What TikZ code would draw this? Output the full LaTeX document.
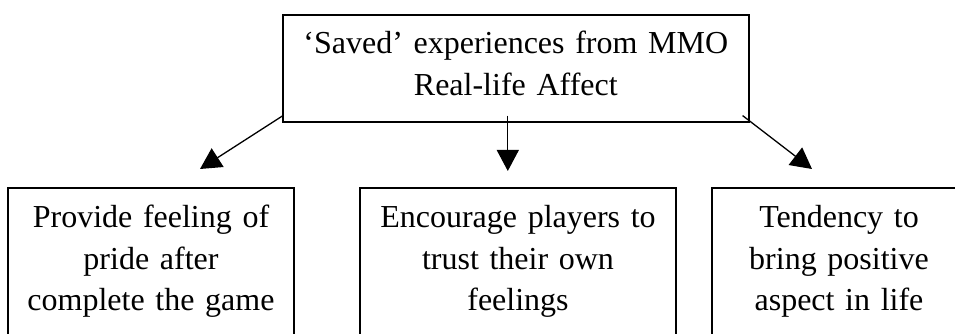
\documentclass[tikz,border=0pt]{standalone}
\usepackage{fontspec}
\setmainfont{Liberation Serif}
\usetikzlibrary{arrows.meta}
\tikzset{
  boxline/.style={draw=black, line width=1.6pt, inner sep=0pt, align=center,
    font=\fontsize{32}{41.5}\selectfont},
  topbox/.style={boxline, text width=466pt, text height=39pt, text depth=68pt},
  lowbox/.style={boxline, anchor=north, text height=40pt, text depth=200pt},
  link/.style={line width=1.3pt, -{Triangle[length=21pt, width=22pt]}}
}
\begin{document}
\begin{tikzpicture}[x=1pt, y=1pt]
\useasboundingbox (0,0) rectangle (955,334);
\clip (0,0) rectangle (955,334);
\node[topbox, anchor=north west] (top) at (282,320)
  {‘Saved’ experiences from MMO\\Real-life Affect};
\node[lowbox, text width=286pt] (b1) at (151,147)
  {Provide feeling of\\pride after\\complete the game};
\node[lowbox, text width=316pt] (b2) at (518,147)
  {Encourage players to\\trust their own\\feelings};
\node[lowbox, text width=254pt] (b3) at (839,147)
  {Tendency to\\bring positive\\aspect in life};
\coordinate (sl) at ([shift={(1,7)}]top.south west);
\coordinate (sm) at ([shift={(-8,7)}]top.south);
\coordinate (sr) at ([shift={(-7,7)}]top.south east);
\coordinate (el) at (200,165);
\coordinate (em) at ([xshift=-8pt]top.south |- 0,163);
\coordinate (er) at (812,165);
\draw[link] (sl) -- (el);
\draw[link] (sm) -- (em);
\draw[link] (sr) -- (er);
\end{tikzpicture}
\end{document}
